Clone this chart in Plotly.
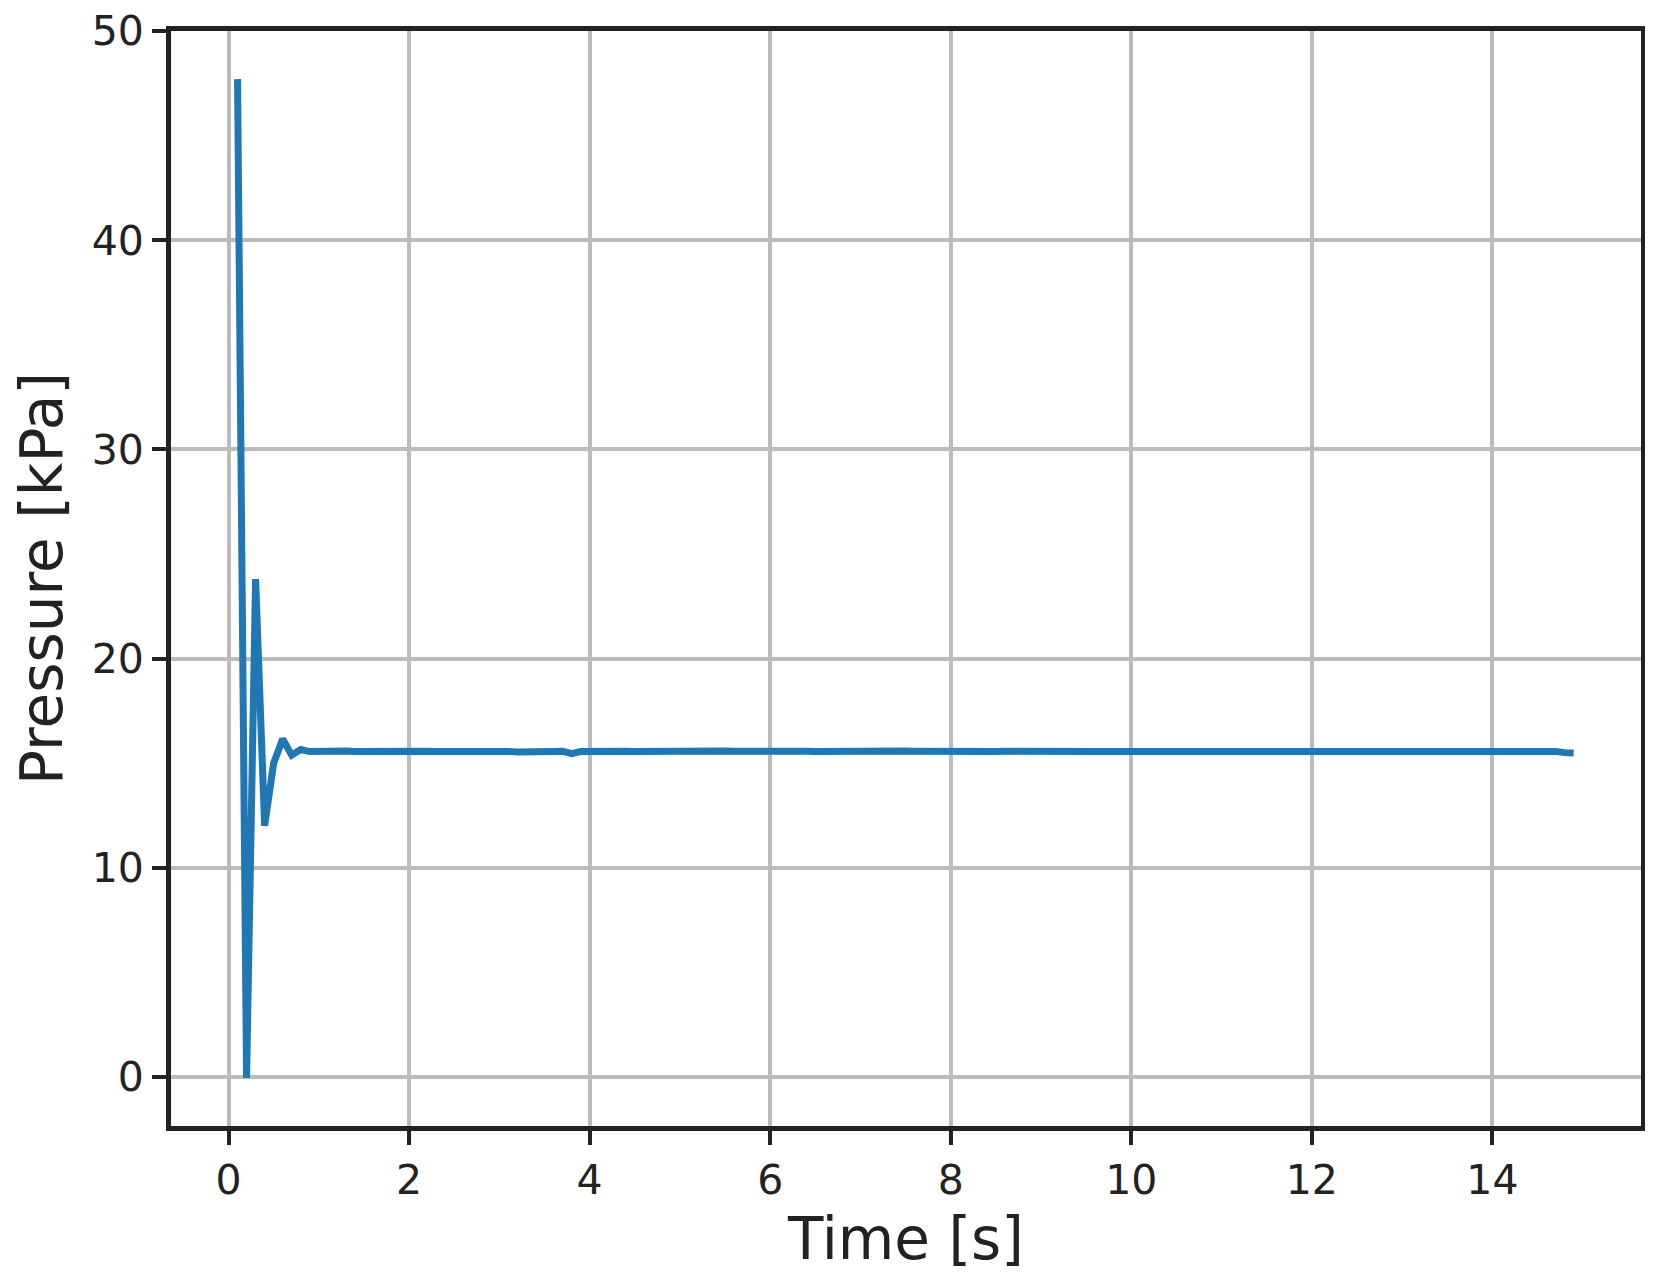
import plotly.graph_objects as go

# Time samples (s) and measured pressure (kPa)
time_s = [round(0.1 * i, 1) for i in range(1, 150)]

pressure_start = [47.7, -0.05, 23.8, 12.0, 15.0, 16.15, 15.38, 15.65, 15.55]
pressure_rest = [
    15.57, 15.56, 15.57, 15.58, 15.56, 15.57, 15.56, 15.58, 15.57, 15.56,
    15.57, 15.58, 15.57, 15.56, 15.57, 15.56, 15.57, 15.58, 15.57, 15.56,
    15.57, 15.56, 15.53, 15.52, 15.56, 15.57, 15.56, 15.57, 15.45, 15.55,
    15.57, 15.56, 15.57, 15.58, 15.57, 15.56, 15.57, 15.58, 15.57, 15.58,
    15.58, 15.57, 15.58, 15.57, 15.58, 15.58, 15.57, 15.58, 15.57, 15.56,
    15.57, 15.56, 15.57, 15.56, 15.57, 15.56, 15.57, 15.56, 15.57, 15.56,
    15.57, 15.56, 15.57, 15.56, 15.57, 15.58, 15.57, 15.56, 15.57, 15.56,
    15.57, 15.56, 15.57, 15.58, 15.57, 15.56, 15.57, 15.56, 15.57, 15.56,
    15.55, 15.56, 15.55, 15.56, 15.55, 15.56, 15.55, 15.56, 15.57, 15.55,
    15.56, 15.55, 15.56, 15.57, 15.55, 15.56, 15.55, 15.56, 15.55, 15.56,
    15.55, 15.56, 15.55, 15.56, 15.55, 15.56, 15.55, 15.56, 15.55, 15.56,
    15.56, 15.55, 15.56, 15.55, 15.56, 15.55, 15.56, 15.55, 15.56, 15.55,
    15.56, 15.55, 15.56, 15.55, 15.56, 15.55, 15.56, 15.55, 15.56, 15.57,
    15.56, 15.55, 15.56, 15.55, 15.56, 15.55, 15.57, 15.56, 15.50, 15.48,
]
pressure_kpa = pressure_start + pressure_rest[:len(time_s) - len(pressure_start)]

x_ticks = [0, 2, 4, 6, 8, 10, 12, 14]
y_ticks = [0, 10, 20, 30, 40, 50]

ink = '#222222'
grid = '#bcbcbc'

fig = go.Figure()
fig.add_trace(go.Scatter(
    x=time_s,
    y=pressure_kpa,
    mode='lines',
    line=dict(color='#1f77b4', width=7),
    showlegend=False,
))

axis_style = dict(
    showline=True, linecolor=ink, linewidth=5, mirror=True,
    ticks='outside', ticklen=14, tickwidth=4, tickcolor=ink,
    showgrid=True, gridcolor=grid, gridwidth=4,
    zeroline=False,
    automargin=False,
    ticklabeloverflow='allow',
    tickfont=dict(family='DejaVu Sans', size=41, color=ink),
)

# page body adds an 8px margin, so the figure is a bit smaller than the window
fig.update_layout(
    width=1637, height=1265,
    paper_bgcolor='white', plot_bgcolor='white',
    margin=dict(l=163, r=4, t=23, b=147),
    xaxis=dict(
        axis_style,
        range=[-0.637, 15.646],
        tickvals=x_ticks,
        title=dict(text='Time [s]', font=dict(family='DejaVu Sans', size=58, color=ink), standoff=18),
    ),
    yaxis=dict(
        axis_style,
        range=[-2.35, 50.0],
        tickvals=y_ticks,
        title=dict(text='Pressure [kPa]', font=dict(family='DejaVu Sans', size=58, color=ink), standoff=12),
    ),
)

fig.write_html('out.html')
